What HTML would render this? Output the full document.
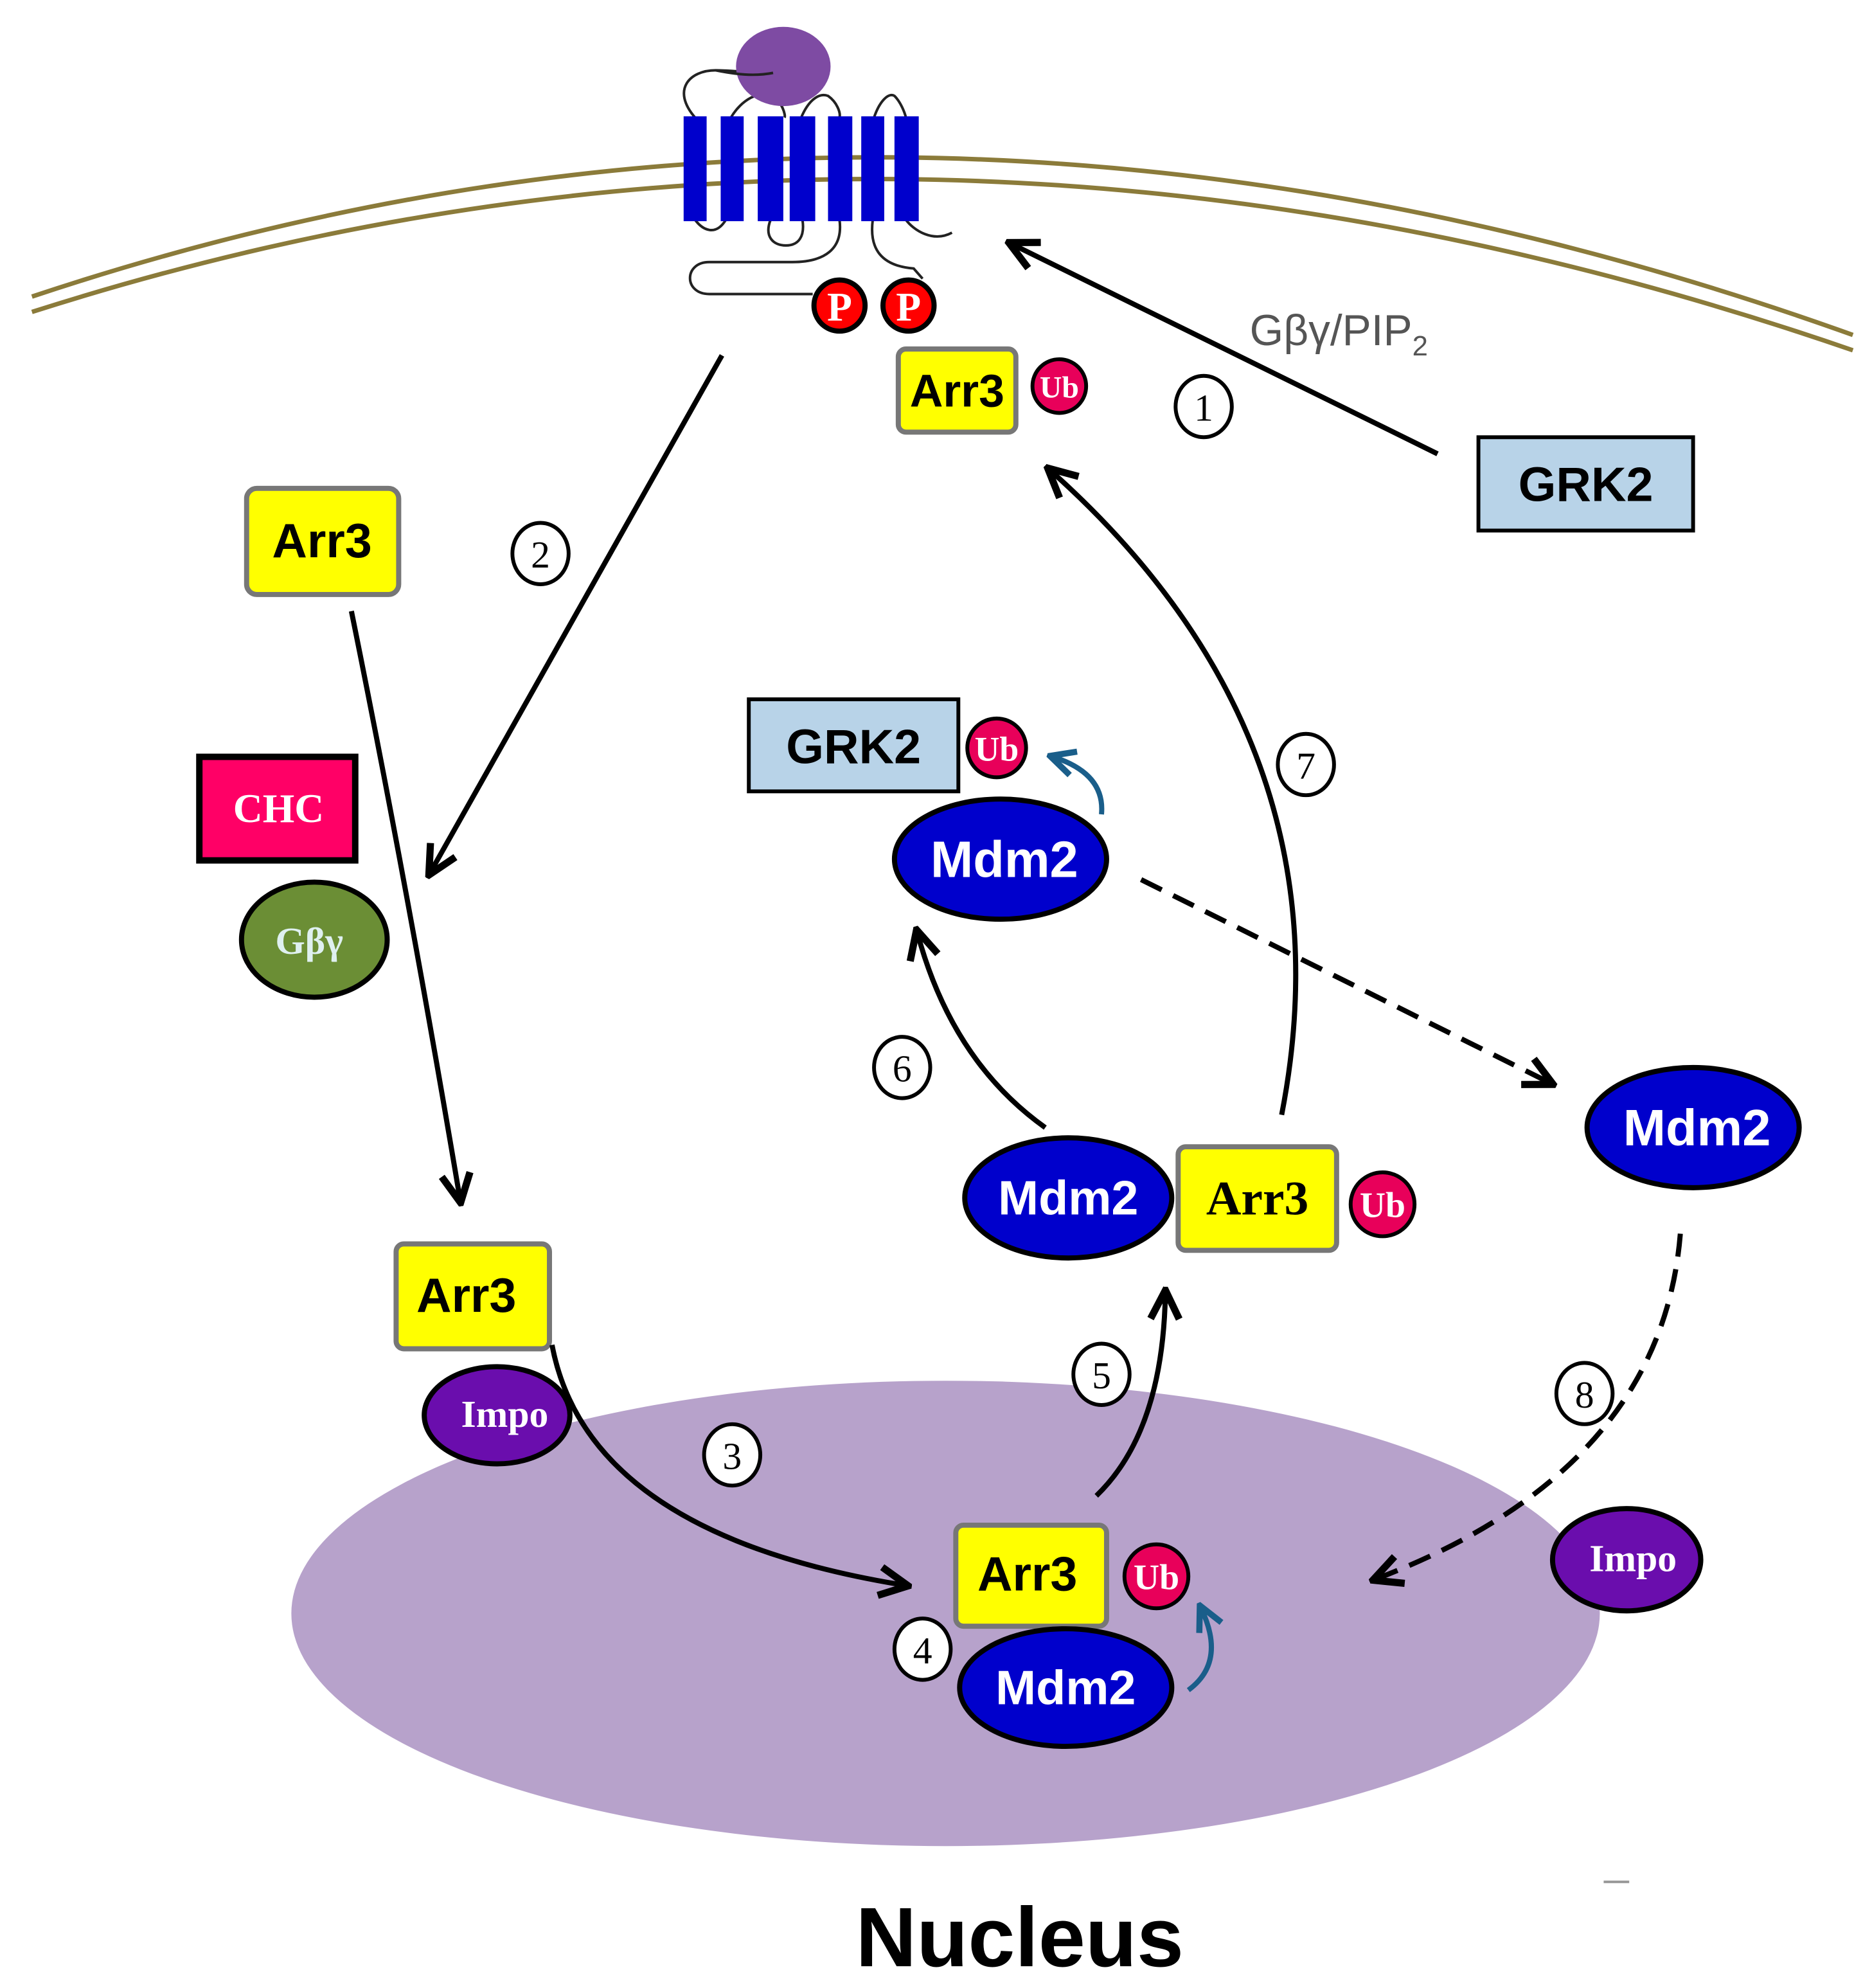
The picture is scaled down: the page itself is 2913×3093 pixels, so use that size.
<!DOCTYPE html>
<html><head><meta charset="utf-8"><style>
html,body{margin:0;padding:0;background:#fff;}
svg{display:block;}
.sans{font-family:"Liberation Sans",Arial,sans-serif;font-weight:bold;}
.serif{font-family:"Liberation Serif",serif;font-weight:bold;}
.num{font-family:"Liberation Serif",serif;font-size:30px;}
</style></head><body>
<svg width="2913" height="3093" viewBox="0 0 1465 1555" preserveAspectRatio="none" xmlns="http://www.w3.org/2000/svg">
<defs>
<marker id="ah" viewBox="0 0 20 20" refX="16" refY="10" markerWidth="7" markerHeight="7" orient="auto" markerUnits="strokeWidth">
<path d="M2,2 L18,10 L2,18" fill="none" stroke="#000" stroke-width="4"/>
</marker>
<marker id="ahb" viewBox="0 0 20 20" refX="16" refY="10" markerWidth="6" markerHeight="6" orient="auto" markerUnits="strokeWidth">
<path d="M2,2 L18,10 L2,18" fill="none" stroke="#1a5e8a" stroke-width="4"/>
</marker>
</defs>
<rect width="1465" height="1555" fill="#fff"/>

<!-- nucleus -->
<ellipse cx="740" cy="1262" rx="512" ry="182" fill="#b7a2cb"/>

<!-- membrane -->
<path d="M25,232 Q720,0 1450,262" fill="none" stroke="#8b7b3a" stroke-width="3.5"/>
<path d="M25,244 Q720,22 1450,274" fill="none" stroke="#8b7b3a" stroke-width="3.5"/>

<!-- receptor loops -->
<g fill="none" stroke="#222" stroke-width="2">
<path d="M544,92 C525,70 540,55 560,55 C580,55 600,60 607,50"/>
<path d="M572,92 C580,78 595,70 605,75 C612,80 615,90 614,92"/>
<path d="M627,92 C632,80 640,72 648,75 C655,80 658,88 657,92"/>
<path d="M684,92 C688,80 695,72 700,75 C705,80 708,88 709,92"/>
<path d="M544,172 C550,180 560,185 568,172"/>
<path d="M603,172 C598,185 605,192 615,192 C625,192 630,185 628,172"/>
<path d="M657,172 C660,195 645,205 620,205 L555,205 C535,205 535,230 555,230 L636,230"/>
<path d="M683,172 C680,195 690,208 715,210 L722,218"/>
<path d="M709,172 C715,180 730,190 745,182"/>
</g>
<ellipse cx="613" cy="52" rx="37" ry="31" fill="#7e4ba3"/>
<path d="M560,55 C575,58 590,60 605,57" fill="none" stroke="#222" stroke-width="2"/>
<!-- TM bars -->
<g fill="#0000cc">
<rect x="535" y="91" width="18" height="82"/>
<rect x="564" y="91" width="18" height="82"/>
<rect x="593" y="91" width="20" height="82"/>
<rect x="618" y="91" width="20" height="82"/>
<rect x="648" y="91" width="19" height="82"/>
<rect x="674" y="91" width="18" height="82"/>
<rect x="700" y="91" width="19" height="82"/>
</g>
<!-- P -->
<circle cx="657" cy="239" r="20" fill="#f00" stroke="#000" stroke-width="4"/>
<circle cx="711" cy="239" r="20" fill="#f00" stroke="#000" stroke-width="4"/>
<text x="657" y="251" text-anchor="middle" class="serif" font-size="32" fill="#fff">P</text>
<text x="711" y="251" text-anchor="middle" class="serif" font-size="32" fill="#fff">P</text>

<!-- Arr3 top -->
<rect x="703" y="273" width="92" height="65" rx="6" fill="#ffff00" stroke="#777" stroke-width="4"/>
<text x="749" y="318" text-anchor="middle" class="sans" font-size="36">Arr3</text>
<circle cx="829" cy="302" r="21" fill="#e8005a" stroke="#000" stroke-width="3"/>
<text x="829" y="311" text-anchor="middle" class="serif" font-size="24" fill="#fff">Ub</text>

<!-- arrow 1 -->
<line x1="1125" y1="355" x2="792" y2="191" stroke="#000" stroke-width="4" marker-end="url(#ah)"/>
<text x="978" y="270" font-family="Liberation Sans,Arial,sans-serif" font-size="34" fill="#555">Gβγ/PIP<tspan font-size="22" dy="8">2</tspan></text>
<rect x="1157" y="342" width="168" height="73" fill="#b8d3e8" stroke="#000" stroke-width="3"/>
<text x="1241" y="392" text-anchor="middle" class="sans" font-size="38">GRK2</text>

<!-- arrow 2 -->
<line x1="565" y1="278" x2="337" y2="682" stroke="#000" stroke-width="4" marker-end="url(#ah)"/>

<!-- left column -->
<rect x="193" y="382" width="119" height="83" rx="8" fill="#ffff00" stroke="#777" stroke-width="4"/>
<text x="252" y="436" text-anchor="middle" class="sans" font-size="38">Arr3</text>
<rect x="156" y="592" width="122" height="81" fill="#ff0066" stroke="#000" stroke-width="5"/>
<text x="218" y="643" text-anchor="middle" class="serif" font-size="32" fill="#fff">CHC</text>
<ellipse cx="246" cy="735" rx="57" ry="45" fill="#6b8e35" stroke="#000" stroke-width="4"/>
<text x="242" y="746" text-anchor="middle" class="serif" font-size="30" fill="#dff0f0">Gβγ</text>
<path d="M275,478 Q320,700 360,938" fill="none" stroke="#000" stroke-width="4" marker-end="url(#ah)"/>

<rect x="310" y="973" width="120" height="82" rx="6" fill="#ffff00" stroke="#777" stroke-width="4"/>
<text x="365" y="1026" text-anchor="middle" class="sans" font-size="38">Arr3</text>
<ellipse cx="389" cy="1107" rx="57" ry="38" fill="#6a0dad" stroke="#000" stroke-width="4"/>
<text x="395" y="1116" text-anchor="middle" class="serif" font-size="30" fill="#fff">Impo</text>
<path d="M432,1052 Q460,1200 708,1240" fill="none" stroke="#000" stroke-width="4" marker-end="url(#ah)"/>

<!-- nucleus complex -->
<rect x="748" y="1193" width="118" height="79" rx="6" fill="#ffff00" stroke="#777" stroke-width="4"/>
<text x="804" y="1244" text-anchor="middle" class="sans" font-size="38">Arr3</text>
<circle cx="905" cy="1233" r="25" fill="#e8005a" stroke="#000" stroke-width="3"/>
<text x="905" y="1243" text-anchor="middle" class="serif" font-size="28" fill="#fff">Ub</text>
<ellipse cx="834" cy="1320" rx="83" ry="46" fill="#0000cc" stroke="#000" stroke-width="4"/>
<text x="834" y="1333" text-anchor="middle" class="sans" font-size="38" fill="#fff">Mdm2</text>
<path d="M930,1322 Q960,1300 940,1258" fill="none" stroke="#1a5e8a" stroke-width="4" marker-end="url(#ahb)"/>

<!-- arrow 5 -->
<path d="M858,1170 Q910,1120 912,1012" fill="none" stroke="#000" stroke-width="4" marker-end="url(#ah)"/>

<!-- middle complex -->
<ellipse cx="836" cy="937" rx="81" ry="47" fill="#0000cc" stroke="#000" stroke-width="4"/>
<text x="836" y="950" text-anchor="middle" class="sans" font-size="38" fill="#fff">Mdm2</text>
<rect x="922" y="897" width="124" height="81" rx="6" fill="#ffff00" stroke="#777" stroke-width="4"/>
<text x="984" y="950" text-anchor="middle" class="serif" font-size="38">Arr3</text>
<circle cx="1082" cy="942" r="25" fill="#e8005a" stroke="#000" stroke-width="3"/>
<text x="1082" y="952" text-anchor="middle" class="serif" font-size="28" fill="#fff">Ub</text>

<!-- arrow 6 -->
<path d="M818,882 Q745,830 718,730" fill="none" stroke="#000" stroke-width="4" marker-end="url(#ah)"/>
<!-- arrow 7 -->
<path d="M1003,872 Q1060,580 822,368" fill="none" stroke="#000" stroke-width="4" marker-end="url(#ah)"/>

<!-- GRK2 middle -->
<rect x="586" y="547" width="164" height="72" fill="#b8d3e8" stroke="#000" stroke-width="3"/>
<text x="668" y="597" text-anchor="middle" class="sans" font-size="38">GRK2</text>
<circle cx="780" cy="585" r="23" fill="#e8005a" stroke="#000" stroke-width="3"/>
<text x="780" y="595" text-anchor="middle" class="serif" font-size="27" fill="#fff">Ub</text>
<ellipse cx="783" cy="672" rx="83" ry="47" fill="#0000cc" stroke="#000" stroke-width="4"/>
<text x="786" y="686" text-anchor="middle" class="sans" font-size="40" fill="#fff">Mdm2</text>
<path d="M862,637 Q865,605 824,592" fill="none" stroke="#1a5e8a" stroke-width="4" marker-end="url(#ahb)"/>

<!-- dashed arrow -->
<line x1="893" y1="688" x2="1213" y2="847" stroke="#000" stroke-width="4" stroke-dasharray="18,10" marker-end="url(#ah)"/>
<ellipse cx="1325" cy="882" rx="83" ry="47" fill="#0000cc" stroke="#000" stroke-width="4"/>
<text x="1328" y="896" text-anchor="middle" class="sans" font-size="40" fill="#fff">Mdm2</text>
<path d="M1315,965 Q1300,1150 1077,1235" fill="none" stroke="#000" stroke-width="4" stroke-dasharray="18,10" marker-end="url(#ah)"/>
<ellipse cx="1273" cy="1220" rx="58" ry="40" fill="#6a0dad" stroke="#000" stroke-width="4"/>
<text x="1278" y="1229" text-anchor="middle" class="serif" font-size="30" fill="#fff">Impo</text>

<!-- circled numbers -->
<g fill="#fff" stroke="#000" stroke-width="3">
<ellipse cx="942" cy="318" rx="22" ry="24"/>
<ellipse cx="423" cy="433" rx="22" ry="24"/>
<ellipse cx="573" cy="1138" rx="22" ry="24"/>
<ellipse cx="722" cy="1290" rx="22" ry="24"/>
<ellipse cx="862" cy="1075" rx="22" ry="24"/>
<ellipse cx="706" cy="835" rx="22" ry="24"/>
<ellipse cx="1022" cy="598" rx="22" ry="24"/>
<ellipse cx="1240" cy="1090" rx="22" ry="24"/>
</g>
<g class="num" text-anchor="middle">
<text x="942" y="329">1</text>
<text x="423" y="444">2</text>
<text x="573" y="1149">3</text>
<text x="722" y="1301">4</text>
<text x="862" y="1086">5</text>
<text x="706" y="846">6</text>
<text x="1022" y="609">7</text>
<text x="1240" y="1101">8</text>
</g>

<line x1="1255" y1="1472" x2="1275" y2="1472" stroke="#999" stroke-width="2"/>
<text x="798" y="1538" text-anchor="middle" class="sans" font-size="66">Nucleus</text>
</svg>
</body></html>
